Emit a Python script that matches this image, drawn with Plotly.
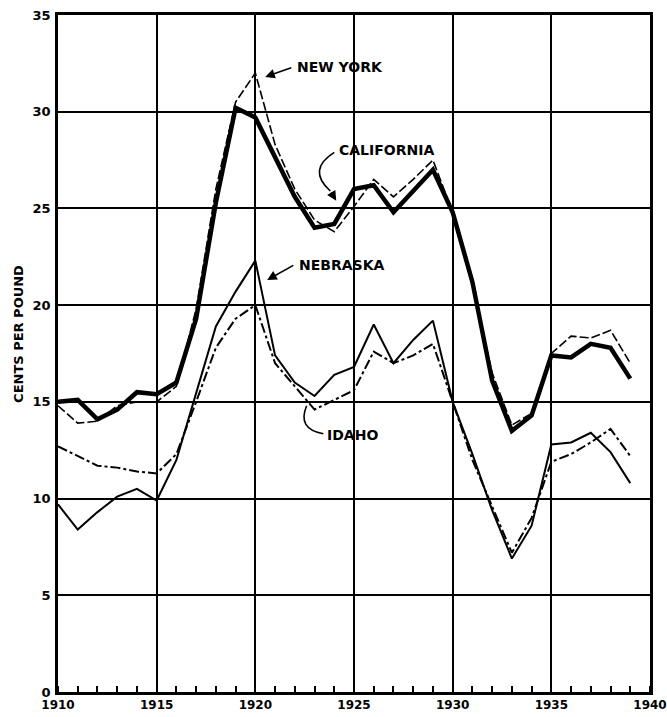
import plotly.graph_objects as go

years = list(range(1910, 1940))

new_york = [14.8, 13.9, 14.0, 14.8, 15.0, 15.0, 15.8, 19.8, 26.0, 30.5,
            32.0, 28.3, 26.0, 24.4, 23.8, 25.1, 26.5, 25.6, 26.5, 27.5,
            24.8, 21.0, 16.5, 13.8, 14.4, 17.5, 18.4, 18.3, 18.7, 17.0]
california = [15.0, 15.1, 14.1, 14.6, 15.5, 15.4, 16.0, 19.3, 25.3, 30.2,
              29.7, 27.6, 25.6, 24.0, 24.2, 26.0, 26.2, 24.8, 25.9, 27.0,
              24.8, 21.2, 16.1, 13.5, 14.3, 17.4, 17.3, 18.0, 17.8, 16.2]
nebraska = [9.7, 8.4, 9.3, 10.1, 10.5, 9.9, 12.0, 15.4, 18.9, 20.7,
            22.3, 17.4, 16.0, 15.3, 16.4, 16.8, 19.0, 17.0, 18.2, 19.2,
            15.0, 12.3, 9.4, 6.9, 8.6, 12.8, 12.9, 13.4, 12.4, 10.8]
idaho = [12.7, 12.2, 11.7, 11.6, 11.4, 11.3, 12.3, 15.0, 17.8, 19.3,
         20.0, 17.0, 15.8, 14.6, 15.1, 15.6, 17.6, 17.0, 17.4, 18.0,
         15.0, 12.0, 9.6, 7.2, 9.0, 11.9, 12.3, 12.9, 13.6, 12.2]

x_ticks = [1910, 1915, 1920, 1925, 1930, 1935, 1940]
y_ticks = [0, 5, 10, 15, 20, 25, 30, 35]

FONT = "DejaVu Sans"

fig = go.Figure()
fig.add_trace(go.Scatter(x=years, y=california, mode="lines", name="California",
                         line=dict(color="black", width=4.5)))
fig.add_trace(go.Scatter(x=years, y=new_york, mode="lines", name="New York",
                         line=dict(color="black", width=1.6, dash="9px,3px")))
fig.add_trace(go.Scatter(x=years, y=nebraska, mode="lines", name="Nebraska",
                         line=dict(color="black", width=2)))
fig.add_trace(go.Scatter(x=years, y=idaho, mode="lines", name="Idaho",
                         line=dict(color="black", width=2, dash="10px,3px,3px,3px")))

lab_font = dict(family=FONT, size=14, color="black", weight="bold")

# NEW YORK
fig.add_annotation(x=1922.0, y=32.3, text="NEW YORK", showarrow=False,
                   xanchor="left", yanchor="middle", font=lab_font)
fig.add_annotation(x=1920.5, y=31.8, ax=1921.9, ay=32.3, axref="x", ayref="y",
                   text="", showarrow=True, arrowhead=2, arrowsize=1.2,
                   arrowwidth=1.6, arrowcolor="black")
# CALIFORNIA
fig.add_annotation(x=1924.15, y=28.0, text="CALIFORNIA", showarrow=False,
                   xanchor="left", yanchor="middle", font=lab_font)
fig.add_shape(type="path", xref="x", yref="y",
              path="M 1924.0,27.9 Q 1922.6,27.0 1923.8,25.9",
              line=dict(color="black", width=1.6))
fig.add_annotation(x=1924.1, y=25.4, ax=1923.8, ay=25.9, axref="x", ayref="y",
                   text="", showarrow=True, arrowhead=2, arrowsize=1.2,
                   arrowwidth=1.6, arrowcolor="black")
# NEBRASKA
fig.add_annotation(x=1922.1, y=22.1, text="NEBRASKA", showarrow=False,
                   xanchor="left", yanchor="middle", font=lab_font)
fig.add_annotation(x=1920.6, y=21.3, ax=1922.0, ay=22.1, axref="x", ayref="y",
                   text="", showarrow=True, arrowhead=2, arrowsize=1.2,
                   arrowwidth=1.6, arrowcolor="black")
# IDAHO
fig.add_annotation(x=1923.55, y=13.3, text="IDAHO", showarrow=False,
                   xanchor="left", yanchor="middle", font=lab_font)
fig.add_shape(type="path", xref="x", yref="y",
              path="M 1923.45,13.35 Q 1922.1,13.6 1922.6,14.8",
              line=dict(color="black", width=1.6))

# y-axis title
fig.add_annotation(xref="paper", yref="y", x=-0.068, y=18.5, xanchor="center",
                   text="CENTS PER POUND", textangle=-90, showarrow=False,
                   font=dict(family=FONT, size=13, color="black", weight="bold"))

fig.update_xaxes(range=[1910, 1940], tickvals=x_ticks,
                 ticktext=[str(v) for v in x_ticks], automargin=False,
                 showgrid=True, gridcolor="black", gridwidth=2,
                 showline=True, linecolor="black", linewidth=2.5, mirror=True,
                 ticks="", zeroline=False,
                 minor=dict(dtick=1, ticks="inside", ticklen=6,
                            tickcolor="black", tickwidth=1.5, showgrid=False),
                 tickfont=dict(family=FONT, size=12, color="black", weight="bold"))
fig.update_yaxes(range=[0, 35], tickvals=y_ticks,
                 ticktext=[str(v) for v in y_ticks], automargin=False,
                 showgrid=True, gridcolor="black", gridwidth=2,
                 showline=True, linecolor="black", linewidth=2.5, mirror=True,
                 ticks="", zeroline=False, ticklabelstandoff=2,
                 tickfont=dict(family=FONT, size=13, color="black", weight="bold"))

fig.update_layout(width=667, height=717,
                  margin=dict(l=58, r=17, t=15, b=25),
                  paper_bgcolor="white", plot_bgcolor="white",
                  showlegend=False)

fig.write_html("out.html", config={"displayModeBar": False},
               post_script="document.body.style.margin='0';document.body.style.overflow='hidden';")
